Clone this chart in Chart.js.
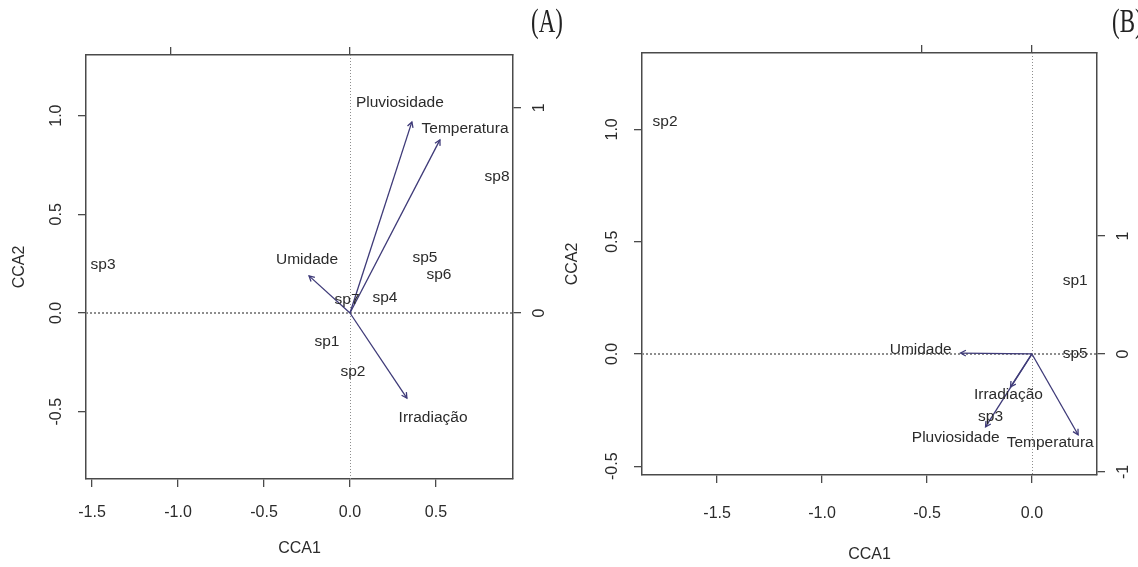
<!DOCTYPE html>
<html lang="pt">
<head>
  <meta charset="UTF-8">
  <title>CCA biplots</title>
  <script src="https://cdn.jsdelivr.net/npm/chart.js"></script>
  <style>
    body { margin: 0; background: #fff; width: 1138px; height: 567px; position: relative; overflow: hidden; }
    canvas { position: absolute; top: 0; }
    #cA { left: 0; }
    #cB { left: 555px; }
    .tag { position: absolute; top: 2px; font-family: "Liberation Serif", "DejaVu Serif", serif; font-size: 27px; color: #222;
           transform: scale(0.85, 1.25); transform-origin: left top; }
  </style>
</head>
<body>
  <canvas id="cA" width="555" height="567"></canvas>
  <canvas id="cB" width="583" height="567"></canvas>
  <div class="tag" style="left:531px">(A)</div>
  <div class="tag" style="left:1112px">(B)</div>

  <script>
    // ---- painel A ----
    const speciesA = ['sp3', 'sp8', 'sp5', 'sp6', 'sp4', 'sp7', 'sp1', 'sp2'];
    const speciesAX = [-1.436, 0.855, 0.436, 0.517, 0.203, -0.017, -0.134, 0.017];
    const speciesAY = [0.243, 0.689, 0.279, 0.193, 0.076, 0.066, -0.147, -0.299];

    const envVars = ['Pluviosidade', 'Temperatura', 'Umidade', 'Irradiação'];
    const envAX = [0.360, 0.523, -0.238, 0.331];
    const envAY = [0.968, 0.877, 0.188, -0.431];
    const envALabelX = [0.29, 0.669, -0.25, 0.483];
    const envALabelY = [1.064, 0.933, 0.269, -0.532];

    const xTicksA = [-1.5, -1, -0.5, 0, 0.5];
    const yTicksA = [-0.5, 0, 0.5, 1];
    const topTicksA = [-1, 0];
    const rightTicksA = [0, 1];

    // ---- painel B ----
    const speciesB = ['sp2', 'sp1', 'sp5', 'sp3'];
    const speciesBX = [-1.748, 0.206, 0.206, -0.197];
    const speciesBY = [1.033, 0.325, 0.0, -0.28];

    const envBX = [-0.221, 0.220, -0.34, -0.102];
    const envBY = [-0.325, -0.36, 0.004, -0.147];
    const envBLabelX = [-0.363, 0.087, -0.53, -0.112];
    const envBLabelY = [-0.374, -0.396, 0.018, -0.183];

    const xTicksB = [-1.5, -1, -0.5, 0];
    const yTicksB = [-0.5, 0, 0.5, 1];
    const topTicksB = [-1, 0];
    const rightTicksB = [-1, 0, 1];

    const FONT = '"Liberation Sans", Arial, sans-serif';
    const TXT = '#2b2b2b';
    const AXC = '#4a4a4a';
    const ARROW = '#3e3a78';

    // linhas pontilhadas, pontas das setas, rótulos
    const biplot = {
      id: 'biplot',
      beforeDatasetsDraw(chart) {
        const { ctx, chartArea: a, scales: { x, y } } = chart;
        ctx.save();
        ctx.strokeStyle = '#8e8e8e';
        ctx.lineWidth = 2;
        ctx.setLineDash([2, 2]);
        const y0 = Math.round(y.getPixelForValue(0));
        ctx.beginPath(); ctx.moveTo(a.left, y0); ctx.lineTo(a.right, y0); ctx.stroke();
        ctx.lineWidth = 1;
        ctx.setLineDash([1, 2]);
        const x0 = Math.round(x.getPixelForValue(0)) + 0.5;
        ctx.beginPath(); ctx.moveTo(x0, a.top); ctx.lineTo(x0, a.bottom); ctx.stroke();
        ctx.restore();
      },
      afterDatasetsDraw(chart, args, o) {
        const { ctx, scales: { x, y } } = chart;
        ctx.save();
        // pontas
        ctx.strokeStyle = ARROW;
        ctx.lineWidth = 1.3;
        o.envX.forEach((ex, i) => {
          const px = x.getPixelForValue(ex), py = y.getPixelForValue(o.envY[i]);
          const ox = x.getPixelForValue(0), oy = y.getPixelForValue(0);
          const ang = Math.atan2(py - oy, px - ox);
          ctx.beginPath();
          ctx.moveTo(px - 6 * Math.cos(ang - 0.5), py - 6 * Math.sin(ang - 0.5));
          ctx.lineTo(px, py);
          ctx.lineTo(px - 6 * Math.cos(ang + 0.5), py - 6 * Math.sin(ang + 0.5));
          ctx.stroke();
        });
        // rótulos
        ctx.font = '15.5px ' + FONT;
        ctx.fillStyle = TXT;
        ctx.textAlign = 'center';
        ctx.textBaseline = 'middle';
        o.species.forEach((s, i) => {
          ctx.fillText(s, x.getPixelForValue(o.spX[i]), y.getPixelForValue(o.spY[i]));
        });
        envVars.forEach((s, i) => {
          ctx.fillText(s, x.getPixelForValue(o.labX[i]), y.getPixelForValue(o.labY[i]));
        });
        ctx.restore();
      },
      afterDraw(chart) {
        const { ctx } = chart;
        ctx.save();
        ctx.font = '16px ' + FONT;
        ctx.fillStyle = TXT;
        ctx.textAlign = 'center';
        ctx.textBaseline = 'middle';
        ['y', 'y2'].forEach(id => {
          const s = chart.scales[id];
          const px = id === 'y' ? s.right - 29 : s.left + 27;
          s.ticks.forEach(t => {
            const txt = id === 'y' ? t.value.toFixed(1) : String(t.value);
            ctx.save();
            ctx.translate(px, s.getPixelForValue(t.value));
            ctx.rotate(-Math.PI / 2);
            ctx.fillText(txt, 0, 0);
            ctx.restore();
          });
        });
        ctx.restore();
      }
    };

    function fixTicks(vals) {
      return s => { s.ticks = vals.map(v => ({ value: v })); };
    }

    function makeChart(id, p) {
      const datasets = [{
        type: 'scatter',
        data: p.spX.map((v, i) => ({ x: v, y: p.spY[i] })),
        pointRadius: 0
      }];
      p.envX.forEach((ex, i) => {
        datasets.push({
          type: 'line',
          data: [{ x: 0, y: 0 }, { x: ex, y: p.envY[i] }],
          borderColor: ARROW,
          borderWidth: 1.3,
          pointRadius: 0,
          fill: false
        });
      });

      const tickGrid = { display: true, drawOnChartArea: false, drawTicks: true, tickLength: 8, color: AXC, lineWidth: 1.3 };
      const border = { display: true, color: AXC, width: 1.5 };

      return new Chart(document.getElementById(id), {
        data: { datasets },
        plugins: [biplot],
        options: {
          responsive: false,
          animation: false,
          events: [],
          layout: { padding: 0 },
          plugins: {
            legend: { display: false },
            tooltip: { enabled: false },
            biplot: p
          },
          scales: {
            x: {
              type: 'linear', position: 'bottom', min: p.xr[0], max: p.xr[1],
              afterBuildTicks: fixTicks(p.xTicks),
              afterFit: s => { s.height = p.box[3]; },
              grid: tickGrid, border,
              ticks: { padding: p.xPad, color: TXT, font: { family: FONT, size: 16 }, maxRotation: 0,
                       callback: v => v.toFixed(1) },
              title: { display: true, text: 'CCA1', color: TXT, font: { family: FONT, size: 16 },
                       padding: { top: 0, bottom: p.xTitlePad } }
            },
            x2: {
              type: 'linear', position: 'top', min: p.xr[0] / p.f, max: p.xr[1] / p.f,
              afterBuildTicks: fixTicks(p.topTicks),
              afterFit: s => { s.height = p.box[2]; },
              grid: tickGrid, border,
              ticks: { display: false }
            },
            y: {
              type: 'linear', position: 'left', min: p.yr[0], max: p.yr[1],
              afterBuildTicks: fixTicks(p.yTicks),
              afterFit: s => { s.width = p.box[0]; },
              grid: tickGrid, border,
              ticks: { display: false },
              title: { display: true, text: 'CCA2', color: TXT, font: { family: FONT, size: 16 },
                       padding: { top: p.yTitlePad, bottom: 0 } }
            },
            y2: {
              type: 'linear', position: 'right', min: p.yr[0] / p.f, max: p.yr[1] / p.f,
              afterBuildTicks: fixTicks(p.rightTicks),
              afterFit: s => { s.width = p.box[1]; },
              grid: tickGrid, border,
              ticks: { display: false }
            }
          }
        }
      });
    }

    // box: [esquerda, direita, topo, baixo] em px ao redor da área do gráfico
    makeChart('cA', {
      species: speciesA, spX: speciesAX, spY: speciesAY,
      envX: envAX, envY: envAY, labX: envALabelX, labY: envALabelY,
      xr: [-1.535, 0.948], yr: [-0.841, 1.307], f: 1.04,
      xTicks: xTicksA, yTicks: yTicksA, topTicks: topTicksA, rightTicks: rightTicksA,
      box: [86, 42, 55, 88], xPad: 16, xTitlePad: 9, yTitlePad: 10
    });

    makeChart('cB', {
      species: speciesB, spX: speciesBX, spY: speciesBY,
      envX: envBX, envY: envBY, labX: envBLabelX, labY: envBLabelY,
      xr: [-1.858, 0.31], yr: [-0.539, 1.34], f: 0.525,
      xTicks: xTicksB, yTicks: yTicksB, topTicks: topTicksB, rightTicks: rightTicksB,
      box: [87, 41, 53, 92], xPad: 21, xTitlePad: 3, yTitlePad: 8
    });
  </script>
</body>
</html>
